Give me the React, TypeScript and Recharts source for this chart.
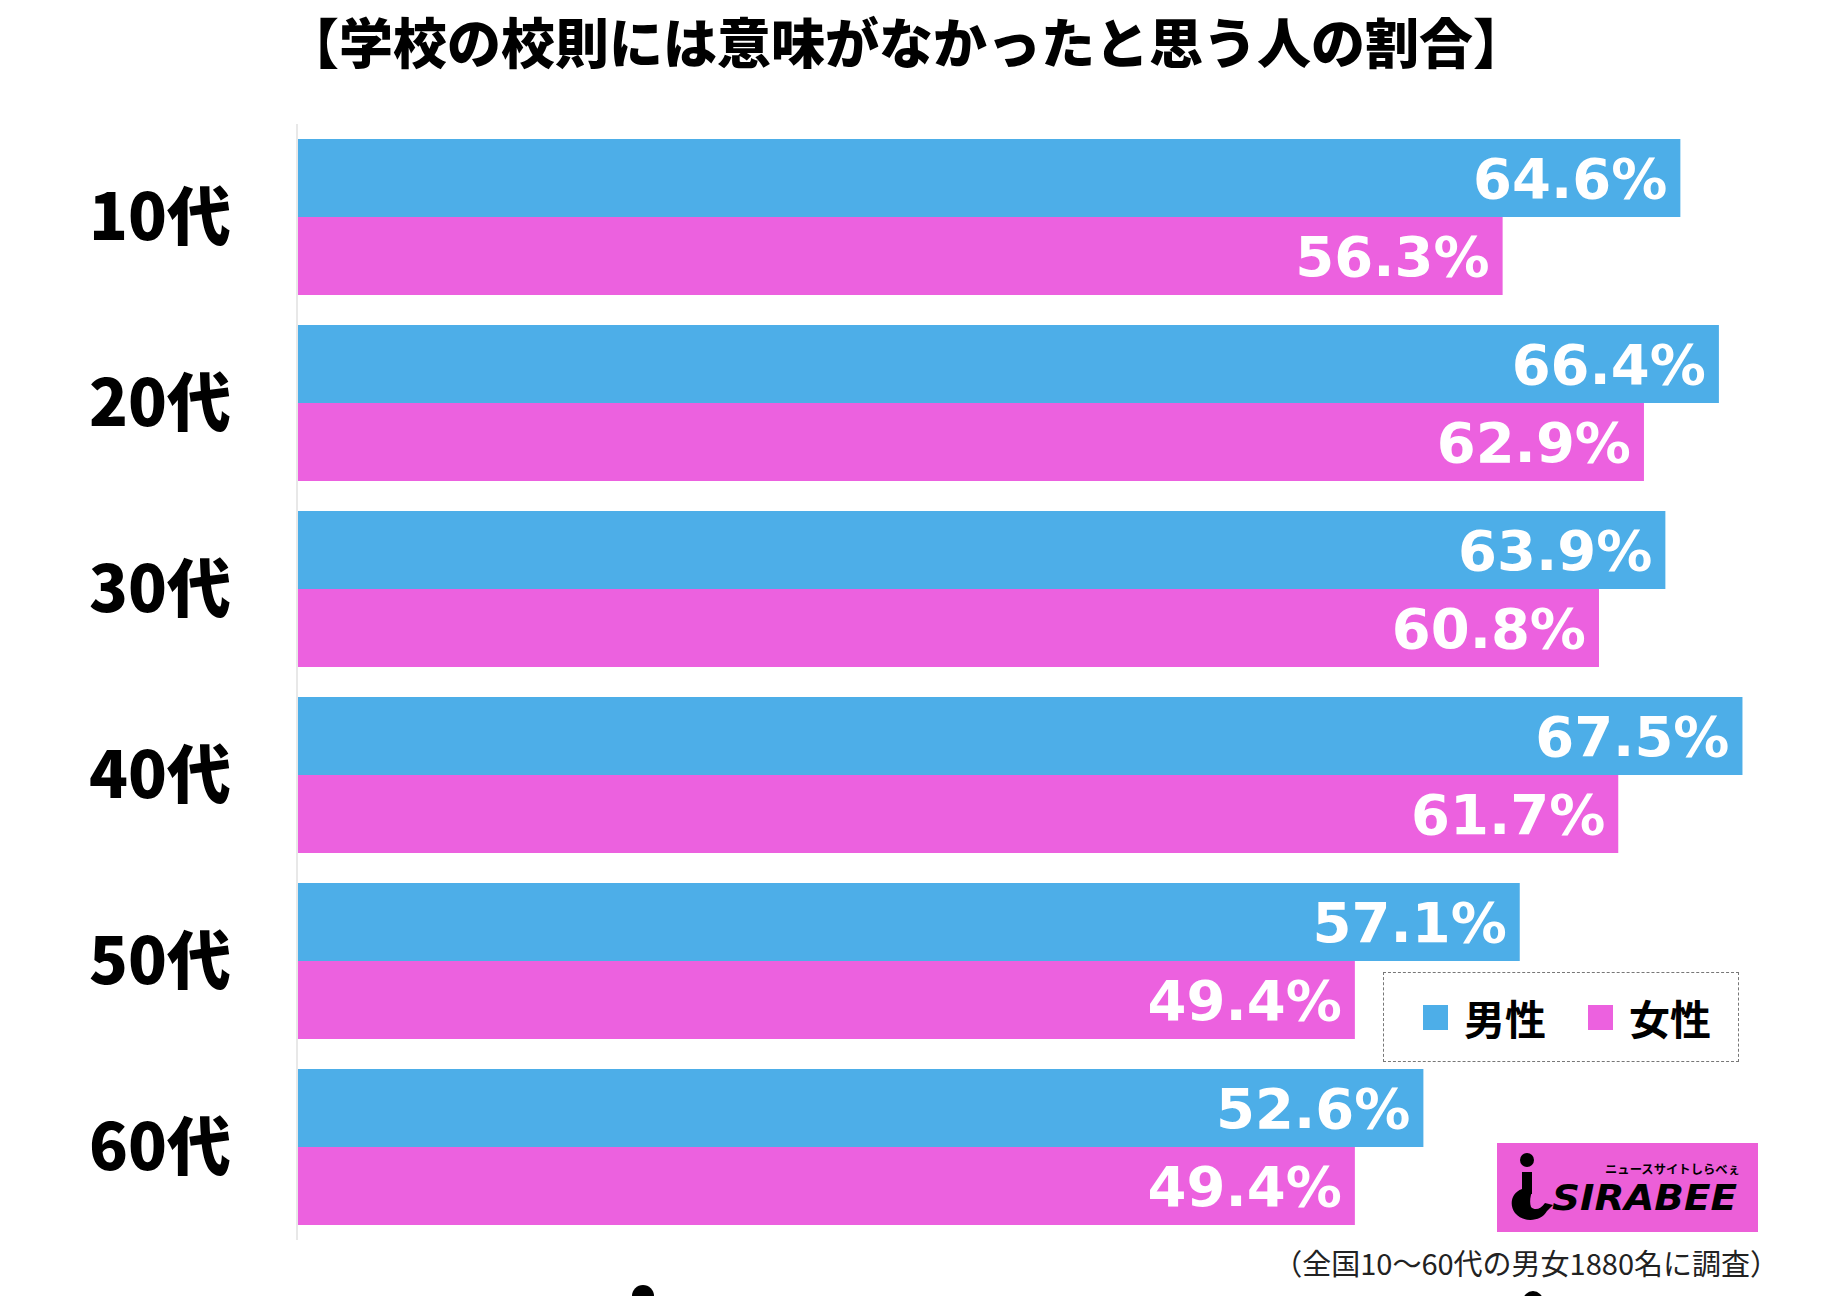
import React from 'react';
import { BarChart, Bar, XAxis, YAxis, LabelList } from 'recharts';

const ages = ['10代', '20代', '30代', '40代', '50代', '60代'];
const male = [64.6, 66.4, 63.9, 67.5, 57.1, 52.6];
const female = [56.3, 62.9, 60.8, 61.7, 49.4, 49.4];

const data = ages.map((age, i) => ({ age, male: male[i], female: female[i] }));

const BLUE = '#4daee8';
const PINK = '#ec61df';
const JP = '"Noto Sans CJK JP", "Noto Sans", sans-serif';

const AgeTick = ({ x, y, payload }: any) => (
  <text
    x={x}
    y={y}
    dy={23}
    textAnchor="end"
    fontSize={64}
    fontWeight={900}
    fontFamily={JP}
    fill="#000"
  >
    {payload.value}
  </text>
);

const fmt = (v: any) => `${Number(v).toFixed(1)}%`;

const labelStyle = {
  fill: '#fff',
  fontSize: 56,
  fontWeight: 700,
  fontFamily: '"DejaVu Sans", sans-serif',
};

export default function App() {
  return (
    <div
      style={{
        position: 'absolute',
        left: 0,
        top: 0,
        width: 1839,
        height: 1296,
        background: '#fff',
        overflow: 'hidden',
      }}
    >
      <div
        style={{
          position: 'absolute',
          left: 0,
          width: 1812,
          top: 12,
          textAlign: 'center',
          fontFamily: JP,
          fontWeight: 900,
          fontSize: 54,
          lineHeight: '58px',
          color: '#000',
        }}
      >
        【学校の校則には意味がなかったと思う人の割合】
      </div>

      <BarChart
        width={1839}
        height={1296}
        data={data}
        layout="vertical"
        margin={{ top: 124, right: 43, bottom: 56, left: 0 }}
        barCategoryGap={15}
        barGap={0}
        style={{ position: 'absolute', left: 0, top: 0 }}
      >
        <XAxis type="number" domain={[0, 70]} hide />
        <YAxis
          type="category"
          dataKey="age"
          width={297}
          tickLine={false}
          tickSize={0}
          tickMargin={66}
          axisLine={{ stroke: '#e8e8e8', strokeWidth: 2 }}
          tick={<AgeTick />}
        />
        <Bar dataKey="male" fill={BLUE} isAnimationActive={false}>
          <LabelList
            dataKey="male"
            position="insideRight"
            offset={13}
            formatter={fmt}
            style={labelStyle}
          />
        </Bar>
        <Bar dataKey="female" fill={PINK} isAnimationActive={false}>
          <LabelList
            dataKey="female"
            position="insideRight"
            offset={13}
            formatter={fmt}
            style={labelStyle}
          />
        </Bar>
      </BarChart>

      {/* legend */}
      <div
        style={{
          position: 'absolute',
          left: 1383,
          top: 972,
          width: 356,
          height: 90,
          border: '1.5px dashed #777',
          background: '#fff',
          display: 'flex',
          alignItems: 'center',
          fontFamily: JP,
          fontWeight: 700,
          fontSize: 41,
          color: '#000',
          boxSizing: 'border-box',
        }}
      >
        <span style={{ width: 25, height: 25, background: BLUE, marginLeft: 39 }} />
        <span style={{ marginLeft: 16 }}>男性</span>
        <span style={{ width: 25, height: 25, background: PINK, marginLeft: 42 }} />
        <span style={{ marginLeft: 16 }}>女性</span>
      </div>

      {/* logo */}
      <div
        style={{
          position: 'absolute',
          left: 1497,
          top: 1143,
          width: 261,
          height: 89,
          background: '#ec5fd8',
        }}
      >
        <svg width={261} height={89} style={{ position: 'absolute', left: 0, top: 0 }}>
          <circle cx={30} cy={17} r={7} fill="#000" />
          <rect x={25} y={29} width={10} height={22} fill="#000" />
          <path
            d="M25 46 C14 50 12 62 18 70 C26 80 44 79 50 68 L56 62 L48 60 C44 66 38 68 34 64 C32 58 34 52 35 48 Z"
            fill="#000"
          />
          <text
            x={108}
            y={31}
            fontSize={12}
            fontWeight={700}
            fontFamily={JP}
            fill="#000"
            textLength={135}
            lengthAdjust="spacingAndGlyphs"
          >
            ニュースサイトしらべぇ
          </text>
          <text
            x={55}
            y={67}
            fontSize={36}
            fontWeight={700}
            fontStyle="italic"
            fontFamily='"DejaVu Sans Condensed", "DejaVu Sans", sans-serif'
            fill="#000"
            textLength={185}
            lengthAdjust="spacingAndGlyphs"
          >
            SIRABEE
          </text>
        </svg>
      </div>

      {/* footnote */}
      <div
        style={{
          position: 'absolute',
          right: 60,
          top: 1242,
          fontFamily: JP,
          fontSize: 29,
          lineHeight: '40px',
          color: '#222',
          whiteSpace: 'nowrap',
        }}
      >
        （全国10～60代の男女1880名に調査）
      </div>

      <div style={{ position: 'absolute', left: 632, top: 1285, width: 22, height: 22, borderRadius: 11, background: '#000' }} />
      <div style={{ position: 'absolute', left: 1523, top: 1291, width: 20, height: 20, borderRadius: 10, background: '#000' }} />
    </div>
  );
}
